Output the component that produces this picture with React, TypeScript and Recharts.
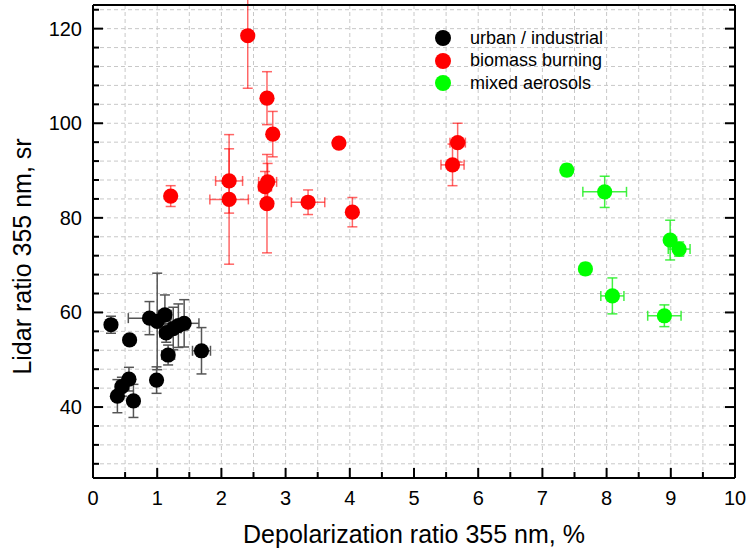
import {
  CartesianGrid,
  ErrorBar,
  Label,
  Legend,
  Scatter,
  ScatterChart,
  XAxis,
  YAxis,
} from "recharts";

// Depolarization ratio (%) and lidar ratio (sr) per observation, with errors.
const urbanDepol = [0.28, 0.57, 0.88, 1.0, 1.12, 1.14, 1.17, 1.25, 1.33, 1.42, 1.69, 0.56, 0.45, 0.38, 0.63, 0.99];
const urbanLidar = [57.4, 54.2, 58.8, 58.1, 59.5, 55.7, 51.0, 56.6, 57.2, 57.7, 51.9, 45.9, 44.3, 42.3, 41.3, 45.7];
const urbanDepolErr = [0.05, 0.04, 0.33, 0.02, 0.1, 0.1, 0.1, 0.12, 0.15, 0.23, 0.14, 0.05, 0.05, 0.05, 0.05, 0.03];
const urbanLidarErr = [1.8, 0.8, 3.5, 10.2, 4.2, 2.0, 2.1, 4.5, 4.6, 5.0, 4.9, 2.5, 2.0, 3.5, 3.5, 2.8];

const biomassDepol = [1.21, 2.12, 2.12, 2.41, 2.71, 2.8, 2.72, 2.68, 2.71, 3.35, 3.83, 4.04, 5.68, 5.6];
const biomassLidar = [84.6, 87.8, 83.9, 118.5, 105.3, 97.7, 87.6, 86.6, 83.0, 83.3, 95.8, 81.2, 95.9, 91.2];
const biomassDepolErr = [0.03, 0.21, 0.3, 0.02, 0.02, 0.03, 0.14, 0.1, 0.02, 0.26, 0.06, 0.03, 0.12, 0.18];
const biomassLidarErr = [2.2, 6.8, 13.7, 11.1, 5.6, 4.8, 3.9, 3.2, 10.4, 2.6, 0.8, 3.1, 4.1, 4.4];

const mixedDepol = [7.38, 7.97, 8.99, 9.13, 7.67, 8.09, 8.9];
const mixedLidar = [90.1, 85.5, 75.3, 73.4, 69.2, 63.5, 59.3];
const mixedDepolErr = [0.05, 0.34, 0.05, 0.17, 0.05, 0.18, 0.26];
const mixedLidarErr = [1.2, 3.3, 4.2, 1.5, 1.2, 3.8, 2.3];

// Ticks: every position gets a tick + grid line, only the labelled ones are major.
const xTicks = [0, 0.5, 1, 1.5, 2, 2.5, 3, 3.5, 4, 4.5, 5, 5.5, 6, 6.5, 7, 7.5, 8, 8.5, 9, 9.5, 10];
const xLabels = [0, 1, 2, 3, 4, 5, 6, 7, 8, 9, 10];
const yTicks = [28, 32, 36, 40, 44, 48, 52, 56, 60, 64, 68, 72, 76, 80, 84, 88, 92, 96, 100, 104, 108, 112, 116, 120, 124];
const yLabels = [40, 60, 80, 100, 120];

const FONT = '"Liberation Sans", Arial, sans-serif';

type Pt = { x: number; y: number; ex: number; ey: number };

const zip = (xs: number[], ys: number[], exs: number[], eys: number[]): Pt[] =>
  xs.map((x, i) => ({ x, y: ys[i], ex: exs[i], ey: eys[i] }));

const SERIES = [
  { name: "urban / industrial", fill: "#000000", bar: "#555555", barOpacity: 1, data: zip(urbanDepol, urbanLidar, urbanDepolErr, urbanLidarErr) },
  { name: "biomass burning", fill: "#ff0000", bar: "#ff0000", barOpacity: 0.6, data: zip(biomassDepol, biomassLidar, biomassDepolErr, biomassLidarErr) },
  { name: "mixed aerosols", fill: "#00ff00", bar: "#22ee22", barOpacity: 0.85, data: zip(mixedDepol, mixedLidar, mixedDepolErr, mixedLidarErr) },
];

type Side = "bottom" | "top" | "left" | "right";

// Inward ticks (origin style), with the label only on the bottom/left axes.
function makeTick(side: Side, labels: number[]) {
  return function Tick(props: any) {
    const { x, y, payload } = props;
    const v = payload?.value as number;
    const major = labels.includes(v);
    const len = major ? 10 : 6;
    let line = { x1: x, y1: y, x2: x, y2: y };
    if (side === "bottom") line = { x1: x, y1: y, x2: x, y2: y - len };
    if (side === "top") line = { x1: x, y1: y, x2: x, y2: y + len };
    if (side === "left") line = { x1: x, y1: y, x2: x + len, y2: y };
    if (side === "right") line = { x1: x, y1: y, x2: x - len, y2: y };
    return (
      <g>
        <line {...line} stroke="#000" strokeWidth={2} />
        {major && side === "bottom" && (
          <text x={x} y={y + 27} textAnchor="middle" fontSize={20} fontFamily={FONT} fill="#000">
            {v}
          </text>
        )}
        {major && side === "left" && (
          <text x={x - 11} y={y + 7} textAnchor="end" fontSize={20} fontFamily={FONT} fill="#000">
            {v}
          </text>
        )}
      </g>
    );
  };
}

const Dot = (fill: string) => (props: any) =>
  <circle cx={props.cx} cy={props.cy} r={7.6} fill={fill} />;

function XTitle({ viewBox }: any) {
  return (
    <text x={viewBox.x + viewBox.width / 2} y={viewBox.y + 65} textAnchor="middle" fontSize={25} fontFamily={FONT} fill="#000">
      Depolarization ratio 355 nm, %
    </text>
  );
}

function YTitle({ viewBox }: any) {
  const cx = viewBox.x + 22;
  const cy = viewBox.y + viewBox.height / 2 + 15;
  return (
    <text x={cx} y={cy} transform={`rotate(-90 ${cx} ${cy})`} textAnchor="middle" dominantBaseline="central" fontSize={25} fontFamily={FONT} fill="#000">
      Lidar ratio 355 nm, sr
    </text>
  );
}

function LegendBox() {
  return (
    <div style={{ fontFamily: FONT, fontSize: 18, color: "#000" }}>
      {SERIES.map((s) => (
        <div key={s.name} style={{ display: "flex", alignItems: "center", height: 22.5 }}>
          <span style={{ display: "inline-block", width: 16, height: 16, borderRadius: 8, background: s.fill, marginRight: 19 }} />
          {s.name}
        </div>
      ))}
    </div>
  );
}

export default function App() {
  const axisLine = { stroke: "#000", strokeWidth: 2 };
  return (
    <div style={{ position: "absolute", left: 0, top: 0, width: 749, height: 558, background: "#fff" }}>
      <ScatterChart width={749} height={558} margin={{ top: 0, right: 0, bottom: 20, left: 0 }}>
        <CartesianGrid xAxisId="b" yAxisId="l" stroke="#c8c8c8" strokeDasharray="4 3" />
        <XAxis
          xAxisId="b"
          type="number"
          dataKey="x"
          domain={[0, 10]}
          allowDataOverflow
          ticks={xTicks}
          interval={0}
          height={60}
          tickSize={0}
          tickMargin={0}
          axisLine={axisLine}
          tickLine={false}
          tick={makeTick("bottom", xLabels)}
        >
          <Label content={XTitle} />
        </XAxis>
        <XAxis
          xAxisId="t"
          orientation="top"
          type="number"
          domain={[0, 10]}
          allowDataOverflow
          ticks={xTicks}
          interval={0}
          height={5}
          tickSize={0}
          tickMargin={0}
          axisLine={axisLine}
          tickLine={false}
          tick={makeTick("top", xLabels)}
        />
        <YAxis
          yAxisId="l"
          type="number"
          dataKey="y"
          domain={[25, 125]}
          allowDataOverflow
          ticks={yTicks}
          interval={0}
          width={93}
          tickSize={0}
          tickMargin={0}
          axisLine={axisLine}
          tickLine={false}
          tick={makeTick("left", yLabels)}
        >
          <Label content={YTitle} />
        </YAxis>
        <YAxis
          yAxisId="r"
          orientation="right"
          type="number"
          domain={[25, 125]}
          allowDataOverflow
          ticks={yTicks}
          interval={0}
          width={14}
          tickSize={0}
          tickMargin={0}
          axisLine={axisLine}
          tickLine={false}
          tick={makeTick("right", yLabels)}
        />
        <Legend
          layout="vertical"
          align="center"
          verticalAlign="middle"
          content={() => <LegendBox />}
          wrapperStyle={{ left: 435, top: 27, width: 220 }}
        />
        {SERIES.map((s) => (
          <Scatter
            key={s.name}
            name={s.name}
            data={s.data}
            xAxisId="b"
            yAxisId="l"
            fill={s.fill}
            shape={Dot(s.fill)}
            isAnimationActive={false}
          >
            <ErrorBar dataKey="ey" direction="y" width={5} stroke={s.bar} strokeOpacity={s.barOpacity} strokeWidth={1.5} />
            <ErrorBar dataKey="ex" direction="x" width={5} stroke={s.bar} strokeOpacity={s.barOpacity} strokeWidth={1.5} />
          </Scatter>
        ))}
      </ScatterChart>
    </div>
  );
}
